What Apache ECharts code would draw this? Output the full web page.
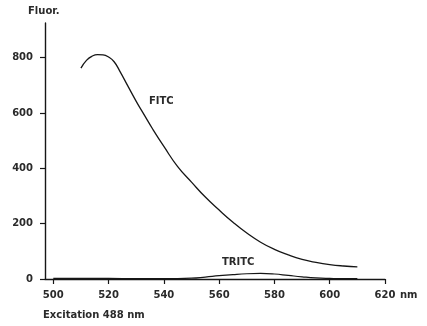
<!DOCTYPE html>
<html><head><meta charset="utf-8">
<script src="https://cdn.jsdelivr.net/npm/echarts@6/dist/echarts.min.js"></script>
<style>html,body{margin:0;padding:0;background:#fff}#c{width:427px;height:326px}</style>
</head><body><div id="c"></div>
<script>
// Emission wavelengths (nm) and fluorescence values
const fitcWavelengths = [510, 512, 514, 516, 518, 520, 522, 524, 527, 530, 533, 536, 540, 545, 550, 555, 560, 565, 570, 575, 580, 585, 590, 595, 600, 605, 610];
const fitcValues      = [762, 790, 805, 811, 810, 802, 785, 752, 697, 642, 591, 541, 479, 406, 350, 296, 249, 205, 166, 133, 107, 87, 71, 60, 52, 47, 44];
const tritcWavelengths = [500, 510, 520, 530, 540, 550, 555, 560, 565, 570, 575, 580, 585, 590, 595, 600, 605, 610];
const tritcValues      = [2, 2, 2, 1, 1, 3, 7, 12, 16, 19, 20, 18, 13, 8, 4, 2, 1, 1];
const xTicks = [500, 520, 540, 560, 580, 600, 620];
const yTicks = [0, 200, 400, 600, 800];

const ink = '#161616';
const textInk = '#2a2a2a';
const font = 'DejaVu Sans';
const pairs = (xs, ys) => xs.map((x, i) => [x, ys[i]]);
const txt = (t, left, top) => ({type: 'text', left, top,
  style: {text: t, fill: textInk, fontFamily: font, fontSize: 10, fontWeight: 'bold'}});

const chart = echarts.init(document.getElementById('c'), null, {renderer: 'canvas'});
chart.setOption({
  animation: false,
  backgroundColor: '#fff',
  grid: {left: 45, right: 42, top: 23, bottom: 47},
  xAxis: {
    type: 'value', min: 497, max: 620,
    axisLine: {show: true, lineStyle: {color: ink, width: 1.4}},
    axisTick: {show: true, customValues: xTicks, length: 5, lineStyle: {color: ink, width: 1.2}},
    axisLabel: {customValues: xTicks, color: textInk, fontFamily: font, fontSize: 10, fontWeight: 'bold', margin: 11},
    splitLine: {show: false}
  },
  yAxis: {
    type: 'value', min: 0, max: 925,
    axisLine: {show: true, lineStyle: {color: ink, width: 1.4}},
    axisTick: {show: true, customValues: yTicks, length: 5, lineStyle: {color: ink, width: 1.2}},
    axisLabel: {customValues: yTicks, color: textInk, fontFamily: font, fontSize: 10, fontWeight: 'bold', margin: 12},
    splitLine: {show: false}
  },
  series: [
    {type: 'line', name: 'FITC', data: pairs(fitcWavelengths, fitcValues), smooth: 0.5,
     showSymbol: false, lineStyle: {color: ink, width: 1.3}},
    {type: 'line', name: 'TRITC', data: pairs(tritcWavelengths, tritcValues), smooth: 0.5,
     showSymbol: false, lineStyle: {color: ink, width: 1.2}}
  ],
  graphic: [
    txt('Fluor.', 28, 6),
    txt('FITC', 149, 96),
    txt('TRITC', 222, 257),
    txt('nm', 400, 290),
    txt('Excitation 488 nm', 43, 310)
  ]
});
</script></body></html>
